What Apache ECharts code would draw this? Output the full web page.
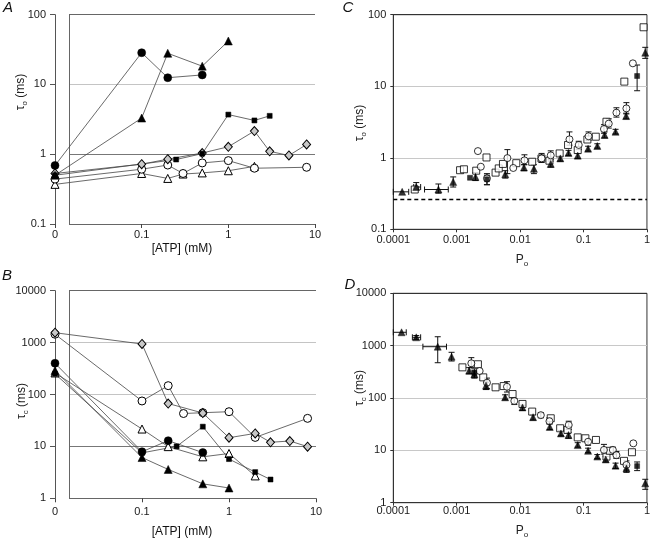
<!DOCTYPE html>
<html><head><meta charset="utf-8">
<script src="https://cdn.jsdelivr.net/npm/echarts@6/dist/echarts.min.js"></script>
<style>html,body{margin:0;padding:0;background:#fff}#c{width:653px;height:541px}</style>
</head><body><div id="c"></div>
<script>
// ================= DATA =================
// Panels A/B: x = [ATP] (mM); the value 0 is drawn at the axis-break position
const ATP_ZERO_AT = 0.01;
const atpTickValues = [0.01, 0.1, 1, 10];
const atpTickLabels = ['0', '0.1', '1', '10'];
const tauOTickValues = [0.1, 1, 10, 100];
const tauOTickLabels = ['0.1', '1', '10', '100'];
const tauCTickValues = [1, 10, 100, 1000, 10000];
const tauCTickLabels = ['1', '10', '100', '1000', '10000'];
const poTickValues = [0.0001, 0.001, 0.01, 0.1, 1];
const poTickLabels = ['0.0001', '0.001', '0.01', '0.1', '1'];

// Panel A : tau_o vs [ATP]
const A_fcirc_atp = [0, 0.1, 0.2, 0.5];
const A_fcirc_tau = [0.69, 28.5, 12.5, 13.7];
const A_ftri_atp = [0, 0.1, 0.2, 0.5, 1];
const A_ftri_tau = [0.5, 3.3, 28, 18.3, 42];
const A_fsq_atp = [0, 0.25, 0.5, 1, 2, 3];
const A_fsq_tau = [0.5, 0.84, 1.02, 3.7, 3.05, 3.55];
const A_diam_atp = [0, 0.1, 0.2, 0.5, 1, 2, 3, 5, 8];
const A_diam_tau = [0.53, 0.72, 0.85, 1.04, 1.28, 2.15, 1.1, 0.96, 1.38];
const A_ocirc_atp = [0, 0.1, 0.2, 0.3, 0.5, 1, 2, 8];
const A_ocirc_tau = [0.44, 0.61, 0.70, 0.53, 0.75, 0.81, 0.63, 0.65];
const A_otri_atp = [0, 0.1, 0.2, 0.3, 0.5, 1, 2];
const A_otri_tau = [0.37, 0.53, 0.45, 0.52, 0.54, 0.58, 0.67];

// Panel B : tau_c vs [ATP]
const B_fcirc_atp = [0, 0.1, 0.2, 0.5];
const B_fcirc_tau = [400, 7.9, 12.9, 7.6];
const B_ftri_atp = [0, 0.1, 0.2, 0.5, 1];
const B_ftri_tau = [290, 6.1, 3.6, 1.9, 1.58];
const B_fsq_atp = [0, 0.1, 0.25, 0.5, 1, 2, 3];
const B_fsq_tau = [250, 7.5, 10, 24, 5.7, 3.2, 2.3];
const B_diam_atp = [0, 0.1, 0.2, 0.5, 1, 2, 3, 5, 8];
const B_diam_tau = [1550, 940, 67, 44, 14.7, 17.8, 12, 12.7, 9.9];
const B_ocirc_atp = [0, 0.1, 0.2, 0.3, 0.5, 1, 2, 8];
const B_ocirc_tau = [1450, 75, 148, 43, 44.6, 46.6, 14.9, 34.7];
const B_otri_atp = [0, 0.1, 0.2, 0.5, 1, 2];
const B_otri_tau = [260, 21.6, 9.9, 6.3, 7.3, 2.7];

// Panel C : tau_o vs Po
const C_circ_P = [0.00216, 0.0024, 0.003, 0.0063, 0.0078, 0.0117, 0.0218, 0.0304, 0.06, 0.084, 0.12, 0.21, 0.25, 0.33, 0.474, 0.60];
const C_circ_tau = [1.24, 0.75, 0.515, 0.99, 0.72, 0.92, 0.98, 1.08, 1.81, 1.51, 2.0, 2.52, 3.0, 4.27, 4.9, 20.9];
const C_circ_err = [null, null, [0.42, 0.6], [0.6, 1.3], null, [0.8, 1.1], [0.86, 1.15], [0.95, 1.25], [1.5, 2.3], [1.3, 1.7], [1.75, 2.3], [2.2, 2.9], [2.6, 3.5], [3.7, 5.0], [4.1, 5.9], null];
const C_sq_P = [0.000218, 0.00113, 0.0013, 0.00203, 0.00295, 0.0041, 0.0046, 0.00536, 0.0087, 0.0155, 0.0217, 0.029, 0.042, 0.057, 0.081, 0.115, 0.156, 0.23, 0.44, 0.885];
const C_sq_tau = [0.36, 0.67, 0.69, 0.66, 1.01, 0.62, 0.71, 0.82, 0.84, 0.88, 0.98, 0.91, 1.15, 1.51, 1.28, 1.8, 1.97, 3.19, 11.6, 66.7];
const C_tri_P = [0.000138, 0.00023, 0.000515, 0.00088, 0.00198, 0.00583, 0.0115, 0.0165, 0.0304, 0.043, 0.058, 0.081, 0.118, 0.165, 0.215, 0.32, 0.47, 0.94];
const C_tri_tau = [0.334, 0.39, 0.36, 0.46, 0.54, 0.59, 0.73, 0.7, 0.82, 0.98, 1.17, 1.07, 1.34, 1.46, 2.08, 2.31, 3.83, 29.4];
const C_tri_err = [null, [0.36, 0.45], [0.32, 0.43], [0.39, 0.54], [0.48, 0.62], [0.52, 0.66], [0.66, 0.8], [0.6, 0.8], [0.74, 0.9], [0.9, 1.06], [1.08, 1.27], [0.98, 1.15], [1.24, 1.45], [1.36, 1.57], [1.9, 2.3], [2.15, 2.5], [3.5, 4.2], [24.5, 35]];
const C_tri_errP = [[0.0001, 0.000175], [0.00021, 0.00027], [0.000311, 0.000736], null, null, null, null, null, null, null, null, null, null, null, null, null, null, null];
const C_fsq_P = [0.00162, 0.003, 0.70];
const C_fsq_tau = [0.525, 0.50, 13.9];
const C_fsq_err = [null, [0.42, 0.57], [8.65, 19.8]];
const C_dashed_tau = 0.26;

// Panel D : tau_c vs Po
const D_tri_P = [0.000135, 0.00023, 0.000502, 0.00083, 0.00157, 0.0019, 0.0029, 0.0058, 0.0109, 0.016, 0.0293, 0.044, 0.058, 0.081, 0.118, 0.165, 0.224, 0.32, 0.475, 0.94];
const D_tri_tau = [1800, 1443, 955, 615, 333, 284, 172, 103, 66, 43, 28, 21, 19.6, 12.6, 9.8, 7.6, 6.7, 5.1, 4.5, 2.34];
const D_tri_err = [null, [1320, 1560], [472, 1480], [509, 746], [290, 380], [240, 330], [145, 200], [92, 115], [58, 73], [38, 48], [25, 32], [19, 24], [17, 22], [11.5, 14], [9, 11], [7, 8.3], [6, 7.6], [4.5, 5.7], [3.8, 5.2], [1.8, 2.8]];
const D_tri_errP = [[0.0001, 0.00016], [0.0002, 0.00027], [0.000293, 0.00069], null, null, null, null, null, null, null, null, null, null, null, null, null, null, null, null, null];
const D_sq_P = [0.00123, 0.00216, 0.00262, 0.0041, 0.0055, 0.0076, 0.0109, 0.0155, 0.0304, 0.0428, 0.056, 0.081, 0.107, 0.157, 0.23, 0.26, 0.435, 0.58];
const D_sq_tau = [385, 441, 248, 160, 169, 119, 77, 55, 41, 26.4, 24.5, 17.7, 17, 15.8, 7.6, 9.8, 6.3, 9.2];
const D_circ_P = [0.0017, 0.0023, 0.003, 0.0062, 0.0081, 0.0212, 0.029, 0.0584, 0.118, 0.21, 0.29, 0.33, 0.475, 0.61];
const D_circ_tau = [460, 328, 196, 164, 88, 47, 36, 30.5, 14.6, 10.2, 10.2, 8.1, 5.25, 13.6];
const D_circ_err = [[380, 590], null, [150, 240], [130, 205], [75, 98], [42, 52], [32, 42], [25, 36], [12.5, 16], [8.5, 13], [8.5, 11.5], [7, 9.5], [4.2, 6.3], null];
const D_fsq_P = [0.0019, 0.70];
const D_fsq_tau = [300, 5.0];
const D_fsq_err = [[250, 360], [4.1, 6.0]];

// ================= BUILD =================
const F = "'Liberation Sans', Arial, sans-serif";
const chart = echarts.init(document.getElementById('c'), null, {renderer: 'canvas'});

function fmt(vals, labels) {
  return function (v) {
    for (let i = 0; i < vals.length; i++) if (Math.abs(Math.log10(vals[i]) - Math.log10(v)) < 1e-6) return labels[i];
    return '';
  };
}
function pts(xs, ys) { return xs.map((x, i) => [x === 0 ? ATP_ZERO_AT : x, ys[i]]); }

const MK = {
  fcirc: {symbol: 'circle', symbolSize: 8, itemStyle: {color: '#000', borderColor: '#000', borderWidth: 0.5}},
  ftri: {symbol: 'triangle', symbolSize: 8, itemStyle: {color: '#000', borderColor: '#000', borderWidth: 0.5}},
  fsq: {symbol: 'rect', symbolSize: 5, itemStyle: {color: '#000', borderColor: '#000', borderWidth: 0.5}},
  diam: {symbol: 'diamond', symbolSize: [8, 9], itemStyle: {color: '#c8c8c8', borderColor: '#000', borderWidth: 1}},
  ocirc: {symbol: 'circle', symbolSize: 8, itemStyle: {color: '#fff', borderColor: '#000', borderWidth: 1}},
  otri: {symbol: 'triangle', symbolSize: 8, itemStyle: {color: '#fff', borderColor: '#000', borderWidth: 1}},
  osq: {symbol: 'rect', symbolSize: 7, itemStyle: {color: '#fff', borderColor: '#000', borderWidth: 1}},
  ocirc2: {symbol: 'circle', symbolSize: 7, itemStyle: {color: '#fff', borderColor: '#000', borderWidth: 1}},
  ftri2: {symbol: 'triangle', symbolSize: 7, itemStyle: {color: '#000', borderColor: '#000', borderWidth: 0.5}}
};

function lineS(idx, data, mk) {
  return {type: 'line', xAxisIndex: idx, yAxisIndex: idx, data: data, symbol: mk.symbol, symbolSize: mk.symbolSize,
    showSymbol: true, itemStyle: mk.itemStyle, lineStyle: {color: '#444', width: 0.8}, silent: true, animation: false, z: 3};
}
function scatS(idx, xs, ys, mk, z) {
  return {type: 'scatter', xAxisIndex: idx, yAxisIndex: idx, data: pts(xs, ys), symbol: mk.symbol, symbolSize: mk.symbolSize,
    itemStyle: mk.itemStyle, silent: true, animation: false, z: z || 4};
}
function errS(idx, xs, ys, yerr, xerr) {
  const rows = [];
  xs.forEach((x, i) => {
    const ye = yerr ? yerr[i] : null, xe = xerr ? xerr[i] : null;
    if (ye || xe) rows.push([x, ys[i], ye, xe]);
  });
  return {type: 'custom', xAxisIndex: idx, yAxisIndex: idx, silent: true, animation: false, z: 2,
    data: rows.map(r => [r[0], r[1]]), encode: {x: 0, y: 1}, clip: false,
    renderItem: function (params, api) {
      const r = rows[params.dataIndex];
      const st = {stroke: '#111', lineWidth: 1};
      const cap = 3, ch = [];
      const L = (x1, y1, x2, y2) => ch.push({type: 'line', shape: {x1, y1, x2, y2}, style: st});
      if (r[2]) {
        const a = api.coord([r[0], r[2][0]]), b = api.coord([r[0], r[2][1]]);
        L(a[0], a[1], b[0], b[1]); L(a[0] - cap, a[1], a[0] + cap, a[1]); L(b[0] - cap, b[1], b[0] + cap, b[1]);
      }
      if (r[3]) {
        const a = api.coord([r[3][0], r[1]]), b = api.coord([r[3][1], r[1]]);
        L(a[0], a[1], b[0], b[1]); L(a[0], a[1] - cap, a[0], a[1] + cap); L(b[0], b[1] - cap, b[0], b[1] + cap);
      }
      return {type: 'group', children: ch};
    }};
}

const grids = [
  {left: 55, top: 14.7, width: 260, height: 209.3},      // 0 A data
  {left: 69, top: 14.7, width: 246, height: 209.3},      // 1 A frame
  {left: 55, top: 290.7, width: 261, height: 207.6},     // 2 B data
  {left: 69, top: 290.7, width: 247, height: 207.6},     // 3 B frame
  {left: 393.3, top: 14.7, width: 256.7, height: 214.6, show: true, borderColor: '#333', borderWidth: 1}, // 4 C
  {left: 393.3, top: 293.3, width: 256.7, height: 209.4, show: true, borderColor: '#333', borderWidth: 1} // 5 D
];

const lblStyle = {color: '#1a1a1a', fontSize: 11, fontFamily: F};
function dataX(grid, min, max, vals, labels, margin) {
  return {type: 'log', logBase: 10, gridIndex: grid, min: min, max: max,
    axisLine: {show: false}, axisTick: {show: true, length: 4, lineStyle: {color: '#444'}},
    axisLabel: Object.assign({formatter: fmt(vals, labels), margin: margin, showMinLabel: true, showMaxLabel: true}, lblStyle),
    splitLine: {show: false}};
}
function dataY(grid, min, max, vals, labels) {
  return {type: 'log', logBase: 10, gridIndex: grid, min: min, max: max,
    axisLine: {show: true, lineStyle: {color: '#555', width: 1}}, axisTick: {show: true, length: 5, lineStyle: {color: '#555'}},
    axisLabel: Object.assign({formatter: fmt(vals, labels), margin: 9, showMinLabel: true, showMaxLabel: true}, lblStyle),
    splitLine: {show: false}};
}
function frameX(grid) { return {type: 'value', gridIndex: grid, min: 0, max: 1, show: false}; }
function frameY(grid, min, max, colors) {
  return {type: 'log', logBase: 10, gridIndex: grid, min: min, max: max, position: 'right',
    axisLine: {show: true, lineStyle: {color: '#666', width: 1}}, axisTick: {show: false}, axisLabel: {show: false},
    splitLine: {show: true, lineStyle: {color: colors, width: 1}}};
}
function poX(grid, margin) {
  return {type: 'log', logBase: 10, gridIndex: grid, min: 0.0001, max: 1,
    axisLine: {show: true, lineStyle: {color: '#333'}}, axisTick: {show: true, length: 3, lineStyle: {color: '#333'}},
    axisLabel: Object.assign({formatter: fmt(poTickValues, poTickLabels), margin: margin, showMinLabel: true, showMaxLabel: true}, lblStyle),
    splitLine: {show: false}};
}
function tauY(grid, min, max, vals, labels, colors) {
  return {type: 'log', logBase: 10, gridIndex: grid, min: min, max: max,
    axisLine: {show: true, lineStyle: {color: '#333'}}, axisTick: {show: true, length: 3, lineStyle: {color: '#333'}},
    axisLabel: Object.assign({formatter: fmt(vals, labels), margin: 7, showMinLabel: true, showMaxLabel: true}, lblStyle),
    splitLine: {show: true, lineStyle: {color: colors, width: 1}}};
}

const xAxes = [
  dataX(0, 0.01, 10, atpTickValues, atpTickLabels, 5),
  frameX(1),
  dataX(2, 0.01, 10, atpTickValues, atpTickLabels, 8),
  frameX(3),
  poX(4, 5),
  poX(5, 3)
];
const yAxes = [
  dataY(0, 0.1, 100, tauOTickValues, tauOTickLabels),
  frameY(1, 0.1, 100, ['#666', '#777', '#c4c4c4', '#666']),
  dataY(2, 1, 10000, tauCTickValues, tauCTickLabels),
  frameY(3, 1, 10000, ['#666', '#777', '#c4c4c4', '#c4c4c4', '#666']),
  tauY(4, 0.1, 100, tauOTickValues, tauOTickLabels, ['#333', '#c8c8c8', '#c8c8c8', '#333']),
  tauY(5, 1, 10000, tauCTickValues, tauCTickLabels, ['#333', '#c8c8c8', '#c8c8c8', '#c8c8c8', '#333'])
];

const series = [
  // A
  lineS(0, pts(A_otri_atp, A_otri_tau), MK.otri),
  lineS(0, pts(A_ocirc_atp, A_ocirc_tau), MK.ocirc),
  lineS(0, pts(A_diam_atp, A_diam_tau), MK.diam),
  lineS(0, pts(A_fsq_atp, A_fsq_tau), MK.fsq),
  lineS(0, pts(A_ftri_atp, A_ftri_tau), MK.ftri),
  lineS(0, pts(A_fcirc_atp, A_fcirc_tau), MK.fcirc),
  // B
  lineS(2, pts(B_otri_atp, B_otri_tau), MK.otri),
  lineS(2, pts(B_ocirc_atp, B_ocirc_tau), MK.ocirc),
  lineS(2, pts(B_diam_atp, B_diam_tau), MK.diam),
  lineS(2, pts(B_fsq_atp, B_fsq_tau), MK.fsq),
  lineS(2, pts(B_ftri_atp, B_ftri_tau), MK.ftri),
  lineS(2, pts(B_fcirc_atp, B_fcirc_tau), MK.fcirc),
  // C
  Object.assign(errS(4, C_tri_P, C_tri_tau, C_tri_err, C_tri_errP), {
    markLine: {silent: true, symbol: 'none', label: {show: false}, animation: false,
      lineStyle: {color: '#000', type: [4, 3], width: 1.3}, data: [{yAxis: C_dashed_tau}]}}),
  errS(4, C_circ_P, C_circ_tau, C_circ_err, null),
  errS(4, C_fsq_P, C_fsq_tau, C_fsq_err, null),
  scatS(4, C_sq_P, C_sq_tau, MK.osq),
  scatS(4, C_circ_P, C_circ_tau, MK.ocirc2),
  scatS(4, C_tri_P, C_tri_tau, MK.ftri2, 5),
  scatS(4, C_fsq_P, C_fsq_tau, MK.fsq, 5),
  // D
  errS(5, D_tri_P, D_tri_tau, D_tri_err, D_tri_errP),
  errS(5, D_circ_P, D_circ_tau, D_circ_err, null),
  errS(5, D_fsq_P, D_fsq_tau, D_fsq_err, null),
  scatS(5, D_sq_P, D_sq_tau, MK.osq),
  scatS(5, D_circ_P, D_circ_tau, MK.ocirc2),
  scatS(5, D_tri_P, D_tri_tau, MK.ftri2, 5),
  scatS(5, D_fsq_P, D_fsq_tau, MK.fsq, 5)
];

// ---- text labels (axis titles with subscripts, panel letters)
const mctx = document.createElement('canvas').getContext('2d');
function tw(s, size) { mctx.font = size + 'px ' + F; return mctx.measureText(s).width; }
function subTitle(cx, cy, main, sub, rest, rotate) {
  const w1 = tw(main, 12), w2 = tw(sub, 8), w3 = tw(rest, 12);
  const x0 = -(w1 + w2 + w3) / 2;
  const base = {fontFamily: F, fill: '#222', align: 'left', verticalAlign: 'middle'};
  return {type: 'group', x: cx, y: cy, rotation: rotate ? Math.PI / 2 : 0, silent: true, children: [
    {type: 'text', x: x0, y: 0, style: Object.assign({text: main, fontSize: 12}, base)},
    {type: 'text', x: x0 + w1, y: 3.5, style: Object.assign({text: sub, fontSize: 8}, base)},
    {type: 'text', x: x0 + w1 + w2, y: 0, style: Object.assign({text: rest, fontSize: 12}, base)}
  ]};
}
function plainText(cx, cy, t, size, italic) {
  return {type: 'text', x: cx, y: cy, silent: true, style: {text: t, fontSize: size, fontFamily: F, fontStyle: italic ? 'italic' : 'normal',
    fill: '#111', align: 'center', verticalAlign: 'middle'}};
}

const graphic = [
  plainText(8, 8, 'A', 15, true),
  plainText(7, 276, 'B', 15, true),
  plainText(348, 8, 'C', 15, true),
  plainText(350, 285, 'D', 15, true),
  plainText(182, 249, '[ATP] (mM)', 12, false),
  plainText(182, 532, '[ATP] (mM)', 12, false),
  subTitle(21, 92, 'τ', 'o', ' (ms)', true),
  subTitle(22, 401, 'τ', 'c', ' (ms)', true),
  subTitle(360, 123, 'τ', 'o', ' (ms)', true),
  subTitle(360, 388, 'τ', 'c', ' (ms)', true),
  subTitle(522, 260, 'P', 'o', '', false),
  subTitle(522, 531, 'P', 'o', '', false)
];

chart.setOption({
  animation: false,
  backgroundColor: '#fff',
  grid: grids,
  xAxis: xAxes,
  yAxis: yAxes,
  series: series,
  graphic: graphic
});
</script>
</body></html>
